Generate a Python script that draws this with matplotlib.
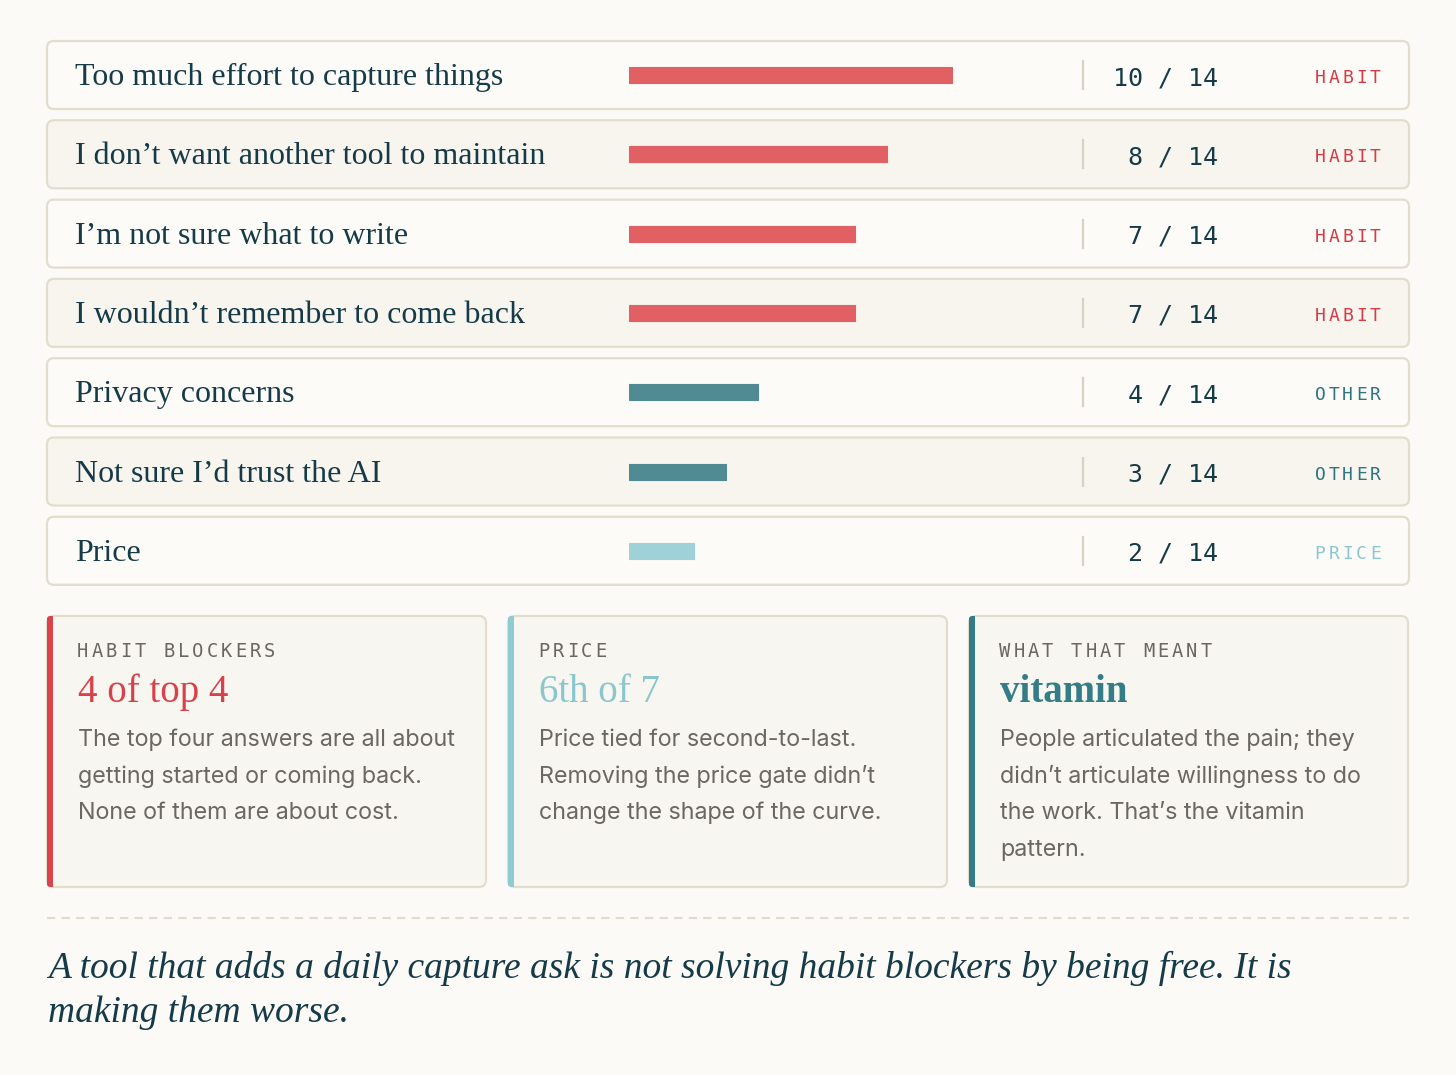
import matplotlib.pyplot as plt
from matplotlib.patches import FancyBboxPatch, Rectangle

# Survey answers (what stopped people)
reasons = ["Too much effort to capture things",
           "I don\u2019t want another tool to maintain",
           "I\u2019m not sure what to write",
           "I wouldn\u2019t remember to come back",
           "Privacy concerns",
           "Not sure I\u2019d trust the AI",
           "Price"]
counts = [10, 8, 7, 7, 4, 3, 2]
total = 14
tags = ["HABIT", "HABIT", "HABIT", "HABIT", "OTHER", "OTHER", "PRICE"]

# Summary cards
card_heads = ["HABIT BLOCKERS", "PRICE", "WHAT THAT MEANT"]
card_values = ["4 of top 4", "6th of 7", "vitamin"]
card_bodies = [["The top four answers are all about",
                "getting started or coming back.",
                "None of them are about cost."],
               ["Price tied for second-to-last.",
                "Removing the price gate didn\u2019t",
                "change the shape of the curve."],
               ["People articulated the pain; they",
                "didn\u2019t articulate willingness to do",
                "the work. That\u2019s the vitamin",
                "pattern."]]
footer = ["A tool that adds a daily capture ask is not solving habit blockers by being free. It is",
          "making them worse."]

bar_col = {"HABIT": "#e06064", "OTHER": "#508a92", "PRICE": "#9fd1d8"}
tag_col = {"HABIT": "#d63a45", "OTHER": "#2f7580", "PRICE": "#8cc7cf"}
card_accent = ["#d9434c", "#8ecbd2", "#367c86"]
card_valcol = ["#d8414a", "#8ac6ce", "#347d87"]

DARK = "#163b48"
GREY = "#6b6763"
EDGE = "#e2ddcc"
BG = "#fbfaf6"
SERIF = "Liberation Serif"
MONO = "DejaVu Sans Mono"
SANS = "Inter"

W, H = 1456, 1075
fig = plt.figure(figsize=(W / 100, H / 100), dpi=100, facecolor=BG)
ax = fig.add_axes([0, 0, 1, 1])
ax.set_xlim(0, W)
ax.set_ylim(H, 0)
ax.axis("off")


def spaced(x, y, s, pitch, **kw):
    for k, ch in enumerate(s):
        ax.text(x + k * pitch, y, ch, ha="center", va="baseline", **kw)


# rows
top, pitch, rh = 41, 79.3, 68
for i, (r, c, t) in enumerate(zip(reasons, counts, tags)):
    y0 = top + i * pitch
    fc = "#fcfbf8" if i % 2 == 0 else "#f8f5ef"
    ax.add_patch(FancyBboxPatch((47, y0), 1362, rh, boxstyle="round,pad=0,rounding_size=7",
                                fc=fc, ec=EDGE, lw=1.6, zorder=1))
    yc = y0 + rh / 2
    ax.text(75, yc + 10, r, fontsize=23, family=SERIF, color=DARK, va="baseline", zorder=3)
    ax.plot([1083, 1083], [yc - 14, yc + 14], color="#d8d2c2", lw=1.6, zorder=3)
    ax.text(1218, yc + 10, f"{c} / {total}", fontsize=18, family=MONO, color=DARK,
            ha="right", va="baseline", zorder=3)
    spaced(1320, yc + 8, t, 13.8, fontsize=13, family=MONO, color=tag_col[t], zorder=3)

# bars on their own axes, scaled 0..total
slot_top = top - (pitch - rh) / 2
bax = fig.add_axes([629 / W, 1 - (slot_top + 7 * pitch) / H, 452 / W, 7 * pitch / H])
bax.set_xlim(0, total)
bax.set_ylim(6.5, -0.5)
bax.axis("off")
bax.patch.set_alpha(0)
bax.barh(range(len(counts)), counts, height=16 / pitch,
         color=[bar_col[t] for t in tags], edgecolor=[bar_col[t] for t in tags], lw=0.8)

# cards
cx = [47, 508, 969]
cw, cy, ch = 439, 616, 271
for j in range(3):
    x0 = cx[j]
    ax.add_patch(FancyBboxPatch((x0, cy), cw, ch, boxstyle="round,pad=0,rounding_size=7",
                                fc="#f8f6f0", ec=EDGE, lw=1.6, zorder=1))
    ax.add_patch(FancyBboxPatch((x0, cy), 6, ch, boxstyle="round,pad=0,rounding_size=3",
                                fc=card_accent[j], ec="none", zorder=2))
    ax.add_patch(Rectangle((x0 + 3, cy), 3, ch, fc=card_accent[j], ec="none", zorder=2))
    spaced(x0 + 35.5, 657, card_heads[j], 14.4, fontsize=13.5, family=MONO, color="#6a6661", zorder=3)
    ax.text(x0 + 31, 702, card_values[j], fontsize=28, family=SERIF, color=card_valcol[j],
            fontweight="bold" if j == 2 else "normal", va="baseline", zorder=3)
    for k, line in enumerate(card_bodies[j]):
        ax.text(x0 + 31, 746 + k * 36.7, line, fontsize=16.8, family=SANS, color=GREY,
                va="baseline", zorder=3)

# dashed rule + footer
ax.plot([47, 1409], [918, 918], color="#e0dccd", lw=1.5, ls=(0, (4, 3)))
for k, line in enumerate(footer):
    ax.text(48, 978 + k * 44, line, fontsize=27, family=SERIF, style="italic", color=DARK,
            va="baseline")

fig.savefig("out.png", dpi=100, facecolor=BG)
